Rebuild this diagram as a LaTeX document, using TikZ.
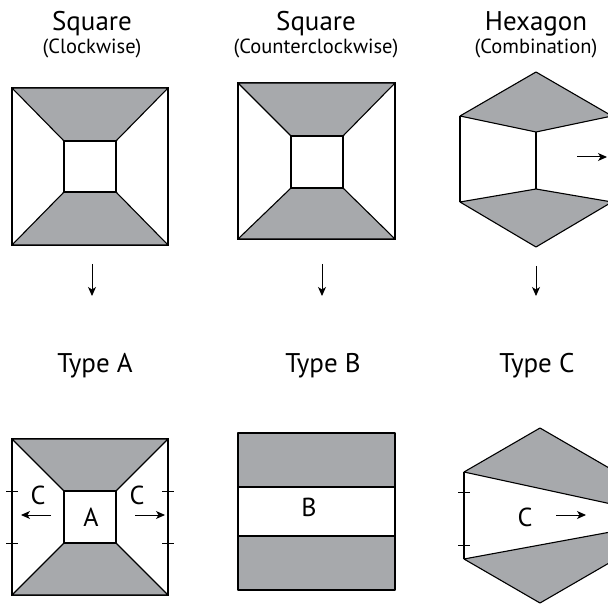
\documentclass[tikz,border=0pt]{standalone}
\usepackage{fontspec}
\setmainfont{PT Sans}
\usetikzlibrary{arrows.meta,positioning}
\definecolor{panelgray}{RGB}{167,169,172}
\tikzset{
  paneline/.style={draw=black, line width=1.1pt},
  grayface/.style={fill=panelgray, draw=black, line width=1.1pt, line join=round},
  titletext/.style={font=\fontsize{27}{30}\selectfont, anchor=base, inner sep=0pt},
  subtext/.style={font=\fontsize{20.5}{22}\selectfont, anchor=base, inner sep=0pt},
  typetext/.style={font=\fontsize{27}{30}\selectfont, anchor=base, inner sep=0pt},
  marktext/.style={font=\fontsize{26}{30}\selectfont, inner sep=0pt},
  flowarr/.style={-{Stealth[length=9pt,width=8pt,inset=2.5pt]}, line width=1pt},
  tickmark/.style={line width=0.9pt}
}

\begin{document}
\begin{tikzpicture}[x=1pt,y=-1pt]
  \useasboundingbox (0,0) rectangle (608,604);
  \clip (0,0) rectangle (608,604);

  % Column headings
  \node[titletext] (hsqcw)  at (92,31)  {Square};
  \node[subtext]   (ssqcw)  at (92,54)  {(Clockwise)};
  \node[titletext] (hsqccw) at (316,31) {Square};
  \node[subtext]   (ssqccw) at (316,54) {(Counterclockwise)};
  \node[titletext] (hhex)   at (536,31) {Hexagon};
  \node[subtext]   (shex)   at (536,54) {(Combination)};

  % Square, clockwise
  \draw[paneline] (12,88) rectangle (168,245);
  \draw[grayface] (12,88) -- (168,88) -- (116,141) -- (64,141) -- cycle;
  \draw[grayface] (64,192) -- (116,192) -- (168,245) -- (12,245) -- cycle;
  \draw[paneline] (64,141) rectangle (116,192);

  % Square, counterclockwise
  \draw[paneline] (238,83) rectangle (395,239);
  \draw[grayface] (238,83) -- (395,83) -- (343,136) -- (291,136) -- cycle;
  \draw[grayface] (291,188) -- (343,188) -- (395,239) -- (238,239) -- cycle;
  \draw[paneline] (291,136) rectangle (343,188);

  % Hexagon, combination
  \draw[paneline] (460,116) -- (460,202);
  \draw[grayface] (460,116) -- (536,72) -- (612,116) -- (536,132) -- cycle;
  \draw[grayface] (460,202) -- (536,189) -- (612,202) -- (536,247) -- cycle;
  \draw[paneline] (536,132) -- (536,189);
  \coordinate (hexs) at (577,157);
  \coordinate (hexe) at (607,157);
  \draw[flowarr] (hexs) -- (hexe);

  % Down arrows
  \coordinate (da1) at (92,264);  \coordinate (db1) at (92,296);
  \coordinate (da2) at (322,264); \coordinate (db2) at (322,296);
  \coordinate (da3) at (536,266); \coordinate (db3) at (536,296);
  \foreach \i in {1,2,3}
    \draw[flowarr] (da\i) -- (db\i);

  % Type labels
  \node[typetext] (typea) at (95,372)  {Type A};
  \node[typetext] (typeb) at (323,372) {Type B};
  \node[typetext] (typec) at (537,372) {Type C};

  % Type A
  \draw[paneline] (12,439) rectangle (168,595);
  \draw[grayface] (12,439) -- (168,439) -- (116,491) -- (64,491) -- cycle;
  \draw[grayface] (64,543) -- (116,543) -- (168,595) -- (12,595) -- cycle;
  \draw[paneline] (64,491) rectangle (116,543);
  \foreach \y in {491,543} {
    \draw[tickmark] (6,\y) -- (18,\y);
    \draw[tickmark] (162,\y) -- (174,\y);
  }
  \node[marktext] (cleft)  at (38,495)  {C};
  \node[marktext] (acore)  at (91,517)  {A};
  \node[marktext] (cright) at (137,495) {C};
  \coordinate (cls) at (51,515);  \coordinate (cle) at (21,515);
  \coordinate (crs) at (135,515); \coordinate (cre) at (165,515);
  \draw[flowarr] (cls) -- (cle);
  \draw[flowarr] (crs) -- (cre);

  % Type B
  \draw[grayface] (238,433) rectangle (395,487);
  \draw[paneline] (238,487) rectangle (395,536);
  \draw[grayface] (238,536) rectangle (395,590);
  \node[marktext] (bcore) at (309,507) {B};

  % Type C
  \draw[paneline] (464,472) -- (464,559);
  \draw[grayface] (464,472) -- (540,428) -- (616,472) -- (616,505) -- cycle;
  \draw[grayface] (464,559) -- (616,531) -- (616,559) -- (540,603) -- cycle;
  \foreach \y in {492,545}
    \draw[tickmark] (458,\y) -- (470,\y);
  \node[marktext] (ccore) at (525,517) {C};
  \coordinate (ccs) at (556,515); \coordinate (cce) at (586,515);
  \draw[flowarr] (ccs) -- (cce);
\end{tikzpicture}
\end{document}
